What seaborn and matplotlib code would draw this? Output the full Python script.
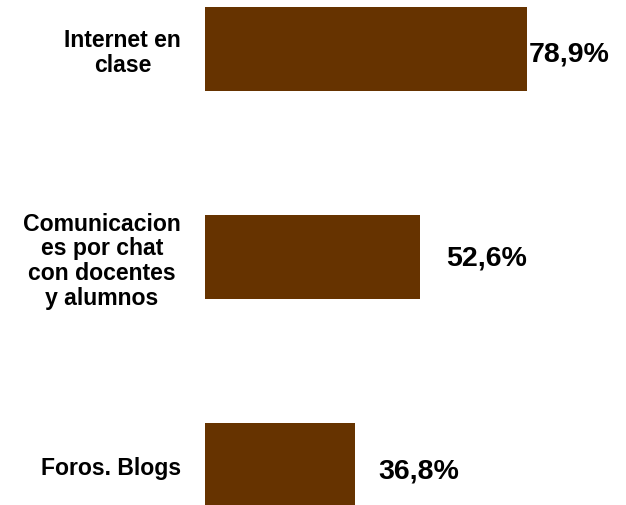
import matplotlib
matplotlib.use("Agg")
import matplotlib.pyplot as plt
import seaborn as sns
import pandas as pd

categories = ["Internet en\nclase", "Comunicacion\nes por chat\ncon docentes\ny alumnos", "Foros. Blogs"]
values = [78.9, 52.6, 36.8]
value_labels = ["78,9%", "52,6%", "36,8%"]
label_offsets_x = [0.5, 6.6, 5.6]
label_offsets_y = [0.024, 0.002, 0.024]

sns.set_theme(style="white")
plt.rcParams['font.family'] = ['Liberation Sans', 'DejaVu Sans']

df = pd.DataFrame({"cat": categories, "val": values})

fig = plt.figure(figsize=(6.26, 5.06), dpi=100)
ax = fig.add_axes([205/626, 0, 421/626, 1])
sns.barplot(data=df, y="cat", x="val", orient="h", color="#663300",
            width=0.404, saturation=1, ax=ax, edgecolor="none")

ax.set_xlim(0, 421/4.081)
ax.set_ylim(2.192, -0.240)
for s in ax.spines.values():
    s.set_visible(False)
ax.set_xticks([])
ax.set_xlabel("")
ax.set_ylabel("")
ax.tick_params(axis="y", length=0, pad=17.3)
for lab in ax.get_yticklabels():
    lab.set_fontsize(16.6)
    lab.set_fontweight("bold")
    lab.set_multialignment("center")
    lab.set_linespacing(1.1)
    lab.set_color("black")

for i, (v, t, ox, oy) in enumerate(zip(values, value_labels, label_offsets_x, label_offsets_y)):
    ax.text(v + ox, i + oy, t, ha="left", va="center", fontsize=20.5,
            fontweight="bold", color="black")

fig.savefig("out.png", dpi=100)
